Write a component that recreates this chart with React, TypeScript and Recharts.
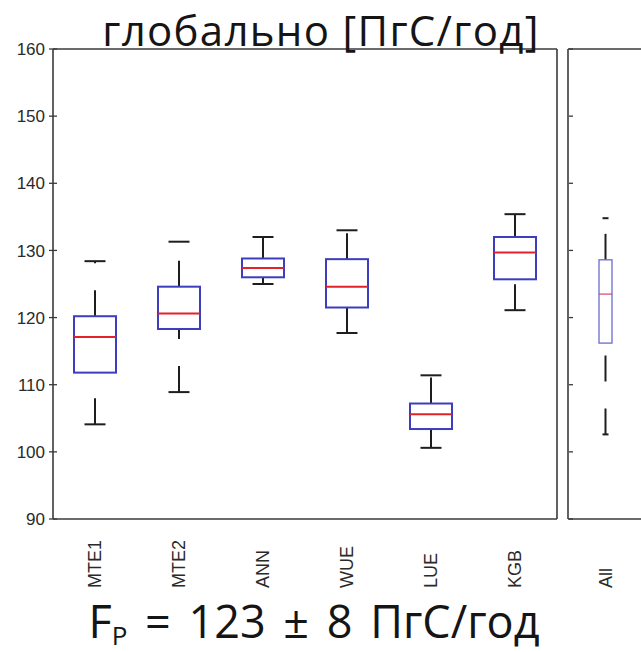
import { ComposedChart, Bar, XAxis, YAxis } from "recharts";

// box statistics (PgC / year)
const CATEGORIES = ["MTE1", "MTE2", "ANN", "WUE", "LUE", "KGB"];
const LOWER = [104.1, 108.9, 125.0, 117.7, 100.6, 121.1];
const Q1 = [111.8, 118.3, 126.0, 121.5, 103.4, 125.7];
const MEDIAN = [117.1, 120.6, 127.4, 124.6, 105.6, 129.7];
const Q3 = [120.2, 124.6, 128.8, 128.7, 107.2, 132.0];
const UPPER = [128.4, 131.3, 132.0, 133.0, 111.4, 135.4];

const ALL_CATEGORY = ["All"];
const ALL_LOWER = [102.6];
const ALL_Q1 = [116.2];
const ALL_MEDIAN = [123.5];
const ALL_Q3 = [128.6];
const ALL_UPPER = [134.8];

const Y_TICKS = [90, 100, 110, 120, 130, 140, 150, 160];
const Y_DOMAIN: [number, number] = [90, 160];

const TITLE = "глобально [ПгС/год]";

const FRAME = "#3a3a3a";
const LABEL = "#2a2a2a";
const FONT = "'Liberation Sans', Arial, sans-serif";
const TEXT_FONT = "'Open Sans', sans-serif";

const buildRows = (names: string[], lo: number[], q1: number[], med: number[], q3: number[], hi: number[]) =>
  names.map((name, i) => ({ name, box: [q1[i], q3[i]], lower: lo[i], median: med[i], upper: hi[i] }));

const mainRows = buildRows(CATEGORIES, LOWER, Q1, MEDIAN, Q3, UPPER);
const allRows = buildRows(ALL_CATEGORY, ALL_LOWER, ALL_Q1, ALL_MEDIAN, ALL_Q3, ALL_UPPER);

interface BoxStyle {
  boxStroke: string;
  boxWidth: number;
  medianStroke: string;
  medianWidth: number;
  whiskerWidth: number;
  capWidth: number;
}

function makeBoxShape(s: BoxStyle) {
  return (props: any) => {
    const { x, y, width, height, payload } = props;
    const [q1, q3] = payload.box;
    const top = Math.min(y, y + height);
    const h = Math.abs(height);
    const k = h / (q3 - q1);
    const bottom = top + h;
    const cx = x + width / 2;
    const yMed = top + (q3 - payload.median) * k;
    const yMax = top - (payload.upper - q3) * k;
    const yMin = bottom + (q1 - payload.lower) * k;
    const c = s.capWidth / 2;
    const wh = { stroke: "#1e1e1e", strokeWidth: s.whiskerWidth };
    return (
      <g>
        {/* dashed whiskers, drawn from low to high like matlab does */}
        <line x1={cx} y1={yMin} x2={cx} y2={bottom} {...wh} strokeDasharray="26 27" />
        <line x1={cx} y1={top} x2={cx} y2={yMax} {...wh} strokeDasharray="26 27" />
        <line x1={cx - c} y1={yMax} x2={cx + c} y2={yMax} {...wh} />
        <line x1={cx - c} y1={yMin} x2={cx + c} y2={yMin} {...wh} />
        <rect x={x} y={top} width={width} height={h} fill="none" stroke={s.boxStroke} strokeWidth={s.boxWidth} />
        <line x1={x} y1={yMed} x2={x + width} y2={yMed} stroke={s.medianStroke} strokeWidth={s.medianWidth} />
      </g>
    );
  };
}

const mainBox = makeBoxShape({
  boxStroke: "#3d3dbd", boxWidth: 2, medianStroke: "#e3212b", medianWidth: 2, whiskerWidth: 2, capWidth: 21,
});
const allBox = makeBoxShape({
  boxStroke: "#6b6bcf", boxWidth: 1.3, medianStroke: "#d2476a", medianWidth: 1.2, whiskerWidth: 2, capWidth: 6,
});

// left axis: label + tick that crosses the frame line
const LeftTick = (props: any) => {
  const { x, y, payload } = props;
  return (
    <g>
      <line x1={x + 4} y1={y} x2={x + 12} y2={y} stroke={FRAME} strokeWidth={1.3} />
      <text x={x} y={y} dy="0.36em" textAnchor="end" fontSize={17} fontFamily={FONT} fill={LABEL}>
        {payload.value}
      </text>
    </g>
  );
};

// inward ticks; axes with width 1 put the tick origin one px off the line
const InnerLeftTick = (props: any) => {
  const { x, y } = props;
  return <line x1={x + 1} y1={y} x2={x + 5} y2={y} stroke={FRAME} strokeWidth={1.3} />;
};

const InnerRightTick = (props: any) => {
  const { x, y } = props;
  return <line x1={x - 4} y1={y} x2={x} y2={y} stroke={FRAME} strokeWidth={1.3} />;
};

const CategoryTick = (props: any) => {
  const { x, y, payload } = props;
  const ty = y + 69;
  return (
    <text
      x={x}
      y={ty}
      dy="0.36em"
      transform={`rotate(-90, ${x}, ${ty})`}
      textAnchor="start"
      fontSize={18}
      fontFamily={FONT}
      fill={LABEL}
    >
      {payload.value}
    </text>
  );
};

const CHART_H = 600;
const MARGIN = { top: 48, right: 0, bottom: 0, left: 0 };
const AXIS_LINE = { stroke: FRAME, strokeWidth: 1.6 };

export default function App() {
  return (
    <div style={{ position: "absolute", left: 0, top: 0, width: 641, height: 652, overflow: "hidden", background: "#fff" }}>
      <div style={{ position: "absolute", left: 0, top: 0 }}>
        <ComposedChart width={558} height={CHART_H} data={mainRows} margin={MARGIN}>
          <XAxis
            dataKey="name"
            height={81}
            interval={0}
            tickLine={false}
            tickSize={0}
            tickMargin={0}
            axisLine={AXIS_LINE}
            tick={<CategoryTick />}
          />
          <XAxis xAxisId="top" dataKey="name" orientation="top" height={1} tick={false} tickLine={false}
            axisLine={AXIS_LINE} />
          <YAxis
            type="number"
            domain={Y_DOMAIN}
            ticks={Y_TICKS}
            width={53}
            tickLine={false}
            tickSize={4}
            tickMargin={4}
            interval={0}
            axisLine={AXIS_LINE}
            tick={<LeftTick />}
          />
          <YAxis
            yAxisId="right"
            orientation="right"
            type="number"
            domain={Y_DOMAIN}
            ticks={Y_TICKS}
            width={1}
            tickLine={false}
            tickSize={0}
            tickMargin={0}
            interval={0}
            axisLine={AXIS_LINE}
            tick={<InnerRightTick />}
          />
          <Bar dataKey="box" barSize={42} shape={mainBox} isAnimationActive={false} />
        </ComposedChart>
      </div>

      <div style={{ position: "absolute", left: 567, top: 0 }}>
        <ComposedChart width={77} height={CHART_H} data={allRows} margin={MARGIN}>
          <XAxis
            dataKey="name"
            height={81}
            interval={0}
            tickLine={false}
            tickSize={0}
            tickMargin={0}
            axisLine={AXIS_LINE}
            tick={<CategoryTick />}
          />
          <XAxis xAxisId="top" dataKey="name" orientation="top" height={1} tick={false} tickLine={false}
            axisLine={AXIS_LINE} />
          <YAxis
            type="number"
            domain={Y_DOMAIN}
            ticks={Y_TICKS}
            width={1}
            tickLine={false}
            tickSize={0}
            tickMargin={0}
            interval={0}
            axisLine={AXIS_LINE}
            tick={<InnerLeftTick />}
          />
          <YAxis
            yAxisId="right"
            orientation="right"
            type="number"
            domain={Y_DOMAIN}
            ticks={Y_TICKS}
            width={1}
            tickLine={false}
            tickSize={0}
            tickMargin={0}
            interval={0}
            axisLine={AXIS_LINE}
            tick={<InnerRightTick />}
          />
          <Bar dataKey="box" barSize={13} shape={allBox} isAnimationActive={false} />
        </ComposedChart>
      </div>

      {/* title and summary line on top of the charts */}
      <svg width={641} height={652} style={{ position: "absolute", left: 0, top: 0, pointerEvents: "none" }}>
        <text x={321} y={46} textAnchor="middle" fontSize={42} letterSpacing={1.3} fontFamily={TEXT_FONT} fill="#151515">
          {TITLE}
        </text>
        <text x={314} y={638} textAnchor="middle" fontSize={45} wordSpacing={6} fontFamily={TEXT_FONT} fill="#151515">
          F<tspan fontSize={26} dy={7}>P</tspan>
          <tspan dy={-7}> = 123 ± 8 ПгС/год</tspan>
        </text>
      </svg>
    </div>
  );
}
